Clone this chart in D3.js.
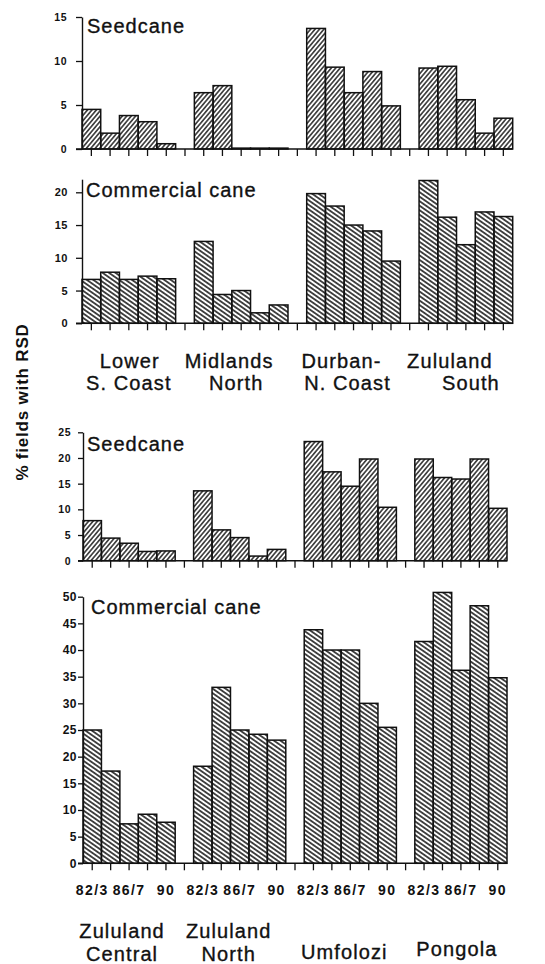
<!DOCTYPE html>
<html>
<head>
<meta charset="utf-8">
<script src="https://cdn.jsdelivr.net/npm/d3@7"></script>
<style>
  body { margin: 0; background: #fff; }
  svg text { font-family: "Liberation Sans", Arial, Helvetica, sans-serif; fill: #111; }
  .tick text { font-weight: bold; }
  .big { stroke: #111; stroke-width: 0.35px; }
</style>
</head>
<body>
<svg id="chart" width="545" height="964"></svg>
<script>
// seasons per region (only some are labelled on the axis)
const seasons = ['82/3', '84/5', '86/7', '88/9', '90'];
const seasonLabels = ['82/3', '86/7', '90'];

const regionsTop = [['Lower', 'S. Coast'], ['Midlands', 'North'], ['Durban-', 'N. Coast'], ['Zululand', 'South']];
const regionsBottom = [['Zululand', 'Central'], ['Zululand', 'North'], ['Umfolozi'], ['Pongola']];

// % fields with RSD, one row per region, one value per season
const seedcaneTop = [
  [4.5, 1.8, 3.8, 3.1, 0.6],
  [6.4, 7.2, 0.1, 0.1, 0.1],
  [13.7, 9.3, 6.4, 8.8, 4.9],
  [9.2, 9.4, 5.6, 1.8, 3.5]
];
const commercialTop = [
  [6.7, 7.8, 6.7, 7.2, 6.8],
  [12.5, 4.4, 5.0, 1.6, 2.8],
  [19.8, 17.9, 15.0, 14.1, 9.5],
  [21.8, 16.2, 12.0, 17.0, 16.3]
];
const seedcaneBottom = [
  [7.8, 4.4, 3.4, 1.8, 1.9],
  [13.6, 6.0, 4.5, 0.9, 2.2],
  [23.2, 17.3, 14.5, 19.8, 10.4],
  [19.8, 16.2, 15.9, 19.8, 10.2]
];
const commercialBottom = [
  [25.0, 17.3, 7.4, 9.2, 7.7],
  [18.2, 33.0, 25.0, 24.2, 23.1],
  [43.8, 40.0, 40.0, 30.0, 25.5],
  [41.6, 50.8, 36.2, 48.3, 34.8]
];

const svg = d3.select('#chart');
const defs = svg.append('defs');

// hatch fills: "/" for seedcane, "\" for commercial cane
function hatch(id, angle, gap, width) {
  defs.append('pattern')
    .attr('id', id)
    .attr('patternUnits', 'userSpaceOnUse')
    .attr('width', gap)
    .attr('height', 10)
    .attr('patternTransform', `rotate(${angle})`)
    .append('line')
    .attr('x1', gap / 2).attr('y1', -1)
    .attr('x2', gap / 2).attr('y2', 11)
    .attr('stroke', '#111')
    .attr('stroke-width', width);
}
hatch('seed', 40, 3.4, 1.35);
hatch('comm', -55, 3.7, 1.5);

const slotCount = seasons.length * 4 + 3; // 5 bars + 1 empty slot per region

const panels = [
  { data: seedcaneTop, title: 'Seedcane', fill: 'seed', x: [82, 512.7], y: [149, 17], max: 15, ticks: d3.range(0, 16, 5), labelX: 67, tick: 6, font: 10.5, titleX: 87, titleY: 33 },
  { data: commercialTop, title: 'Commercial cane', fill: 'comm', x: [82, 512.7], y: [323.3, 179.2], max: 22, ticks: d3.range(0, 21, 5), labelX: 68, tick: 6, font: 11, titleX: 86, titleY: 197 },
  { data: seedcaneBottom, title: 'Seedcane', fill: 'seed', x: [83, 507], y: [560.7, 432.3], max: 25, ticks: d3.range(0, 26, 5), labelX: 71, tick: 5, font: 10.5, titleX: 87, titleY: 451 },
  { data: commercialBottom, title: 'Commercial cane', fill: 'comm', x: [83, 507], y: [863.3, 596.7], max: 50, ticks: d3.range(0, 51, 5), labelX: 77, tick: 5, font: 12, titleX: 91, titleY: 614, xLabels: true }
];

panels.forEach(p => {
  const x = d3.scaleBand()
    .domain(d3.range(slotCount))
    .range(p.x)
    .padding(0);
  const y = d3.scaleLinear()
    .domain([0, p.max])
    .range(p.y);

  const g = svg.append('g');

  // bars
  const bars = p.data.flatMap((row, r) => row.map((v, i) => ({ slot: r * 6 + i, value: v })));
  g.selectAll('rect')
    .data(bars)
    .enter()
    .append('rect')
    .attr('x', d => x(d.slot))
    .attr('y', d => y(d.value))
    .attr('width', x.bandwidth())
    .attr('height', d => y(0) - y(d.value))
    .attr('fill', `url(#${p.fill})`)
    .attr('stroke', '#111')
    .attr('stroke-width', 1.5);

  // x baseline + ticks at slot centres
  g.append('line')
    .attr('x1', p.x[0] - p.tick).attr('x2', p.x[1])
    .attr('y1', y(0)).attr('y2', y(0))
    .attr('stroke', '#111')
    .attr('stroke-width', 1.6);

  const xAxis = d3.axisBottom(x)
    .tickSize(7)
    .tickSizeOuter(0)
    .tickFormat(d => {
      if (!p.xLabels) return '';
      const s = seasons[d % 6];
      return seasonLabels.includes(s) ? s : '';
    });
  const xg = g.append('g')
    .attr('transform', `translate(0,${y(0)})`)
    .call(xAxis);
  xg.select('.domain').remove();
  xg.selectAll('line').attr('stroke', '#111').attr('stroke-width', 1.3);
  xg.selectAll('text')
    .attr('y', 22)
    .style('font-size', '14px')
    .style('letter-spacing', '1.4px');

  // y axis
  const yg = g.append('g')
    .attr('transform', `translate(${p.x[0]},0)`)
    .call(d3.axisLeft(y).tickValues(p.ticks).tickSize(p.tick).tickSizeOuter(0).tickPadding(p.x[0] - p.tick - p.labelX));
  yg.select('.domain').attr('stroke', '#111').attr('stroke-width', 1.4);
  yg.selectAll('line').attr('stroke', '#111').attr('stroke-width', 1.3);
  yg.selectAll('text')
    .style('font-size', p.font + 'px')
    .style('letter-spacing', '0.5px');

  g.append('text')
    .attr('class', 'big')
    .attr('x', p.titleX)
    .attr('y', p.titleY)
    .style('font-size', '20px')
    .style('letter-spacing', '1px')
    .text(p.title);
});

// region names under the panels
const slotW = (512.7 - 82) / slotCount;
const slotWb = (507 - 83) / slotCount;
const topShift = [[1, 0], [-12, -5], [-12, -6], [-16, 5]];
regionsTop.forEach((lines, r) => {
  const cx = 82 + (r * 6 + 2.5) * slotW;
  lines.forEach((t, k) => {
    svg.append('text')
      .attr('class', 'big')
      .attr('x', cx + topShift[r][k])
      .attr('y', 368 + k * 22)
      .attr('text-anchor', 'middle')
      .style('font-size', '20px')
      .style('letter-spacing', '1.1px')
      .text(t);
  });
});

const bottomShift = [-7, -11, -6, -4];
const bottomBase = [[938, 961], [938, 961], [959], [956]];
regionsBottom.forEach((lines, r) => {
  const cx = 83 + (r * 6 + 2.5) * slotWb + bottomShift[r];
  lines.forEach((t, k) => {
    svg.append('text')
      .attr('class', 'big')
      .attr('x', cx)
      .attr('y', bottomBase[r][k])
      .attr('text-anchor', 'middle')
      .style('font-size', '20px')
      .style('letter-spacing', '1.1px')
      .text(t);
  });
});

// shared y label
svg.append('text')
  .attr('transform', 'translate(28,402) rotate(-90)')
  .attr('text-anchor', 'middle')
  .style('font-size', '17px')
  .style('font-weight', 'bold')
  .style('letter-spacing', '0.8px')
  .text('% fields with RSD');
</script>
</body>
</html>
